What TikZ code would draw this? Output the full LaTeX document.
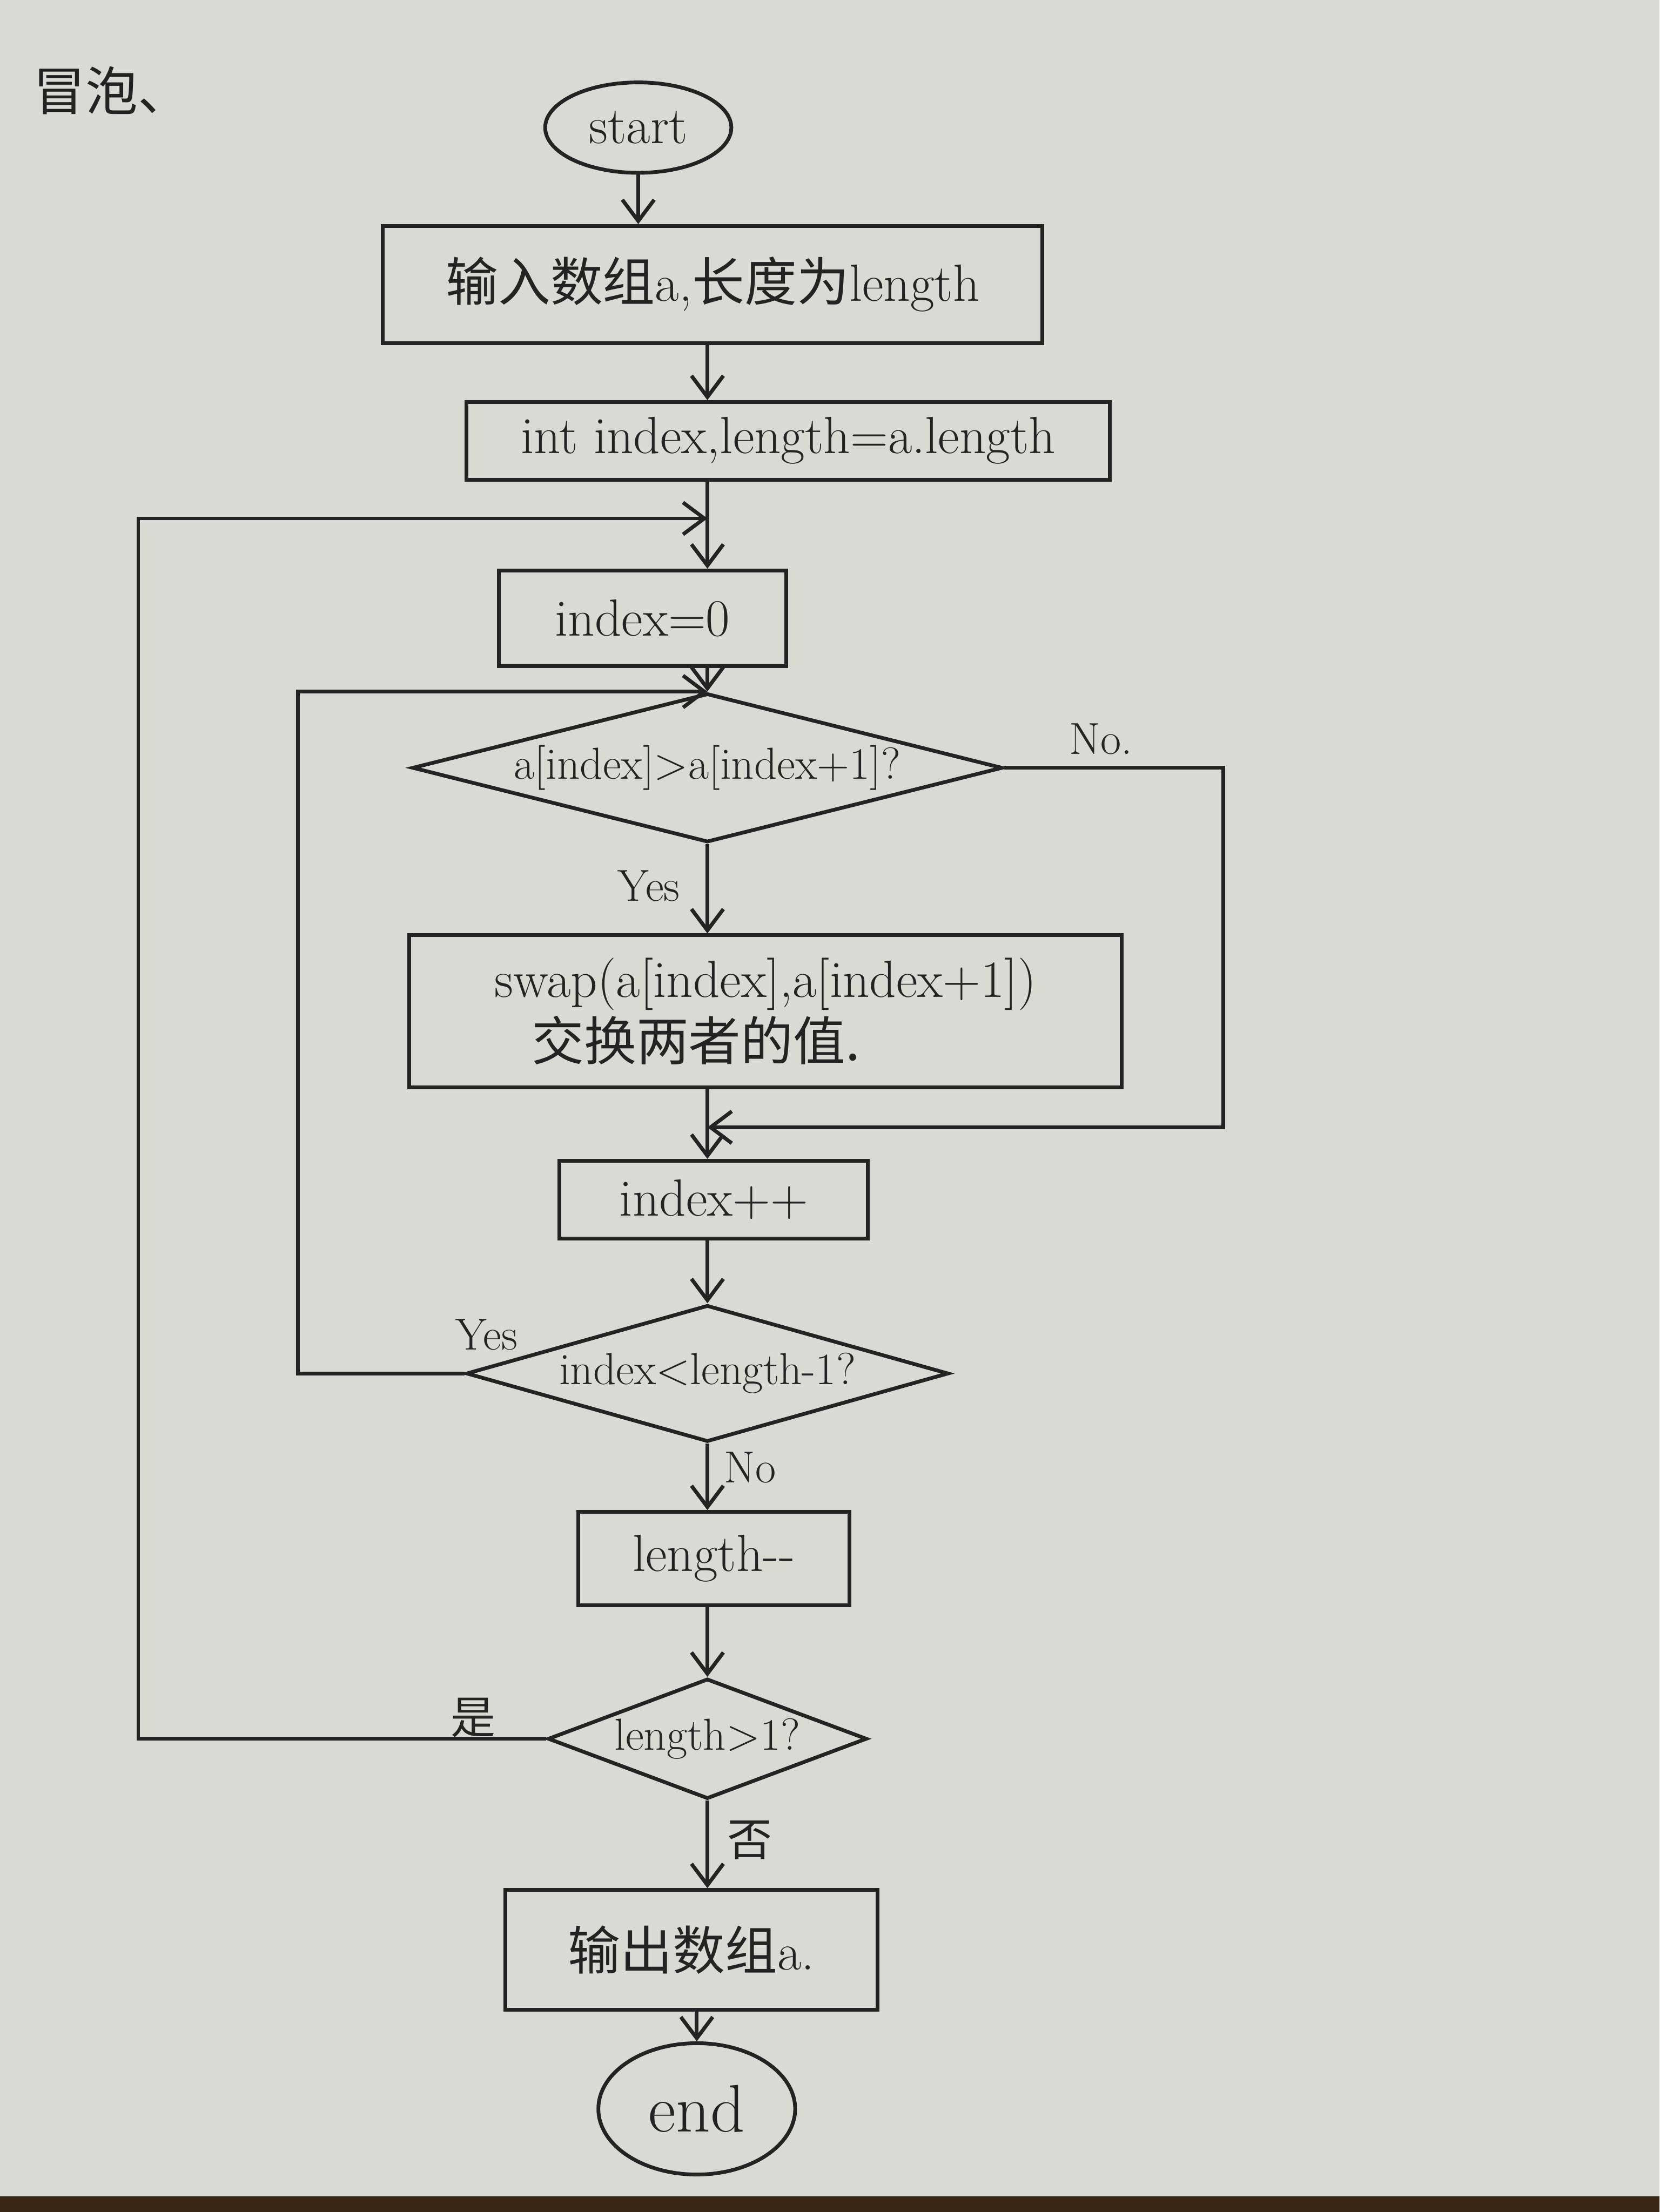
\documentclass[tikz,border=0pt]{standalone}
\usepackage{fontspec}
\usepackage{xcolor}
\usepackage{tikz}
\usetikzlibrary{shapes.geometric,arrows.meta,positioning,calc}
\newfontfamily\cjk{Noto Sans CJK SC}
\definecolor{paper}{RGB}{218,218,212}
\definecolor{ink}{RGB}{35,35,35}

\begin{document}
\begin{tikzpicture}[>={Straight Barb[length=4mm,width=6mm]}, color=ink, line width=2pt,
  box/.style={draw, rectangle, inner sep=0pt, font=\fontsize{28}{34}\selectfont},
  decide/.style={draw, diamond, inner sep=0pt, font=\fontsize{24}{28}\selectfont},
  term/.style={draw, ellipse, inner sep=0pt, font=\fontsize{28}{32}\selectfont},
  lbl/.style={font=\fontsize{24}{28}\selectfont}]
% paper
\fill[paper] (0,0) rectangle (31.2,-41.6);
\fill[black!70!brown] (0,-41.3) rectangle (31.2,-41.6);
\useasboundingbox (0,0) rectangle (31.2,-41.6);

\node (ttl) at (2.1,-1.7) {\fontsize{28}{32}\selectfont\cjk 冒泡、};

\node[term, minimum width=3.5cm, minimum height=1.7cm] (st) at (12.0,-2.4) {start};
\node[box, minimum width=12.4cm, minimum height=2.2cm] (in) at (13.4,-5.35) {{\cjk 输入数组}a,{\cjk 长度为}length};
\node[box, minimum width=12.1cm, minimum height=1.46cm] (ini) at (14.82,-8.29) {int index,length=a.length};
\node[box, minimum width=5.4cm, minimum height=1.8cm] (zero) at (12.08,-11.63) {index=0};
\node[decide, aspect=4, minimum width=11.1cm, minimum height=2.8cm] (cmp) at (13.3,-14.44) {a[index]>a[index+1]?};
\node[box, align=left, minimum width=13.4cm, minimum height=2.86cm] (sw) at (14.39,-19.02)
  {swap(a[index],a[index+1])\\\hspace*{0.7cm}{\cjk 交换两者的值.}};
\node[box, minimum width=5.8cm, minimum height=1.46cm] (inc) at (13.42,-22.56) {index++};
\node[decide, aspect=3.7, minimum width=9.07cm, minimum height=2.57cm] (chk) at (13.3,-25.83) {index<length-1?};
\node[box, minimum width=5.1cm, minimum height=1.75cm] (lenm) at (13.42,-29.31) {length{-}{-}};
\node[decide, aspect=2.65, minimum width=6.0cm, minimum height=2.26cm] (more) at (13.3,-32.70) {length>1?};
\node[box, minimum width=7.0cm, minimum height=2.25cm] (out) at (13.0,-36.67) {{\cjk 输出数组}a.};
\node[term, minimum width=3.7cm, minimum height=2.47cm, font=\fontsize{36}{40}\selectfont] (en) at (13.1,-39.66) {end};

% branch labels
\node[lbl] (no1) at (20.7,-13.9) {No.};
\node[lbl] (y1) at (12.2,-16.66) {Yes};
\node[lbl] (y2) at (9.15,-25.1) {Yes};
\node[lbl] (n2) at (14.1,-27.6) {No};
\node[lbl] (shi) at (8.9,-32.3) {\cjk 是};
\node[lbl] (fou) at (14.1,-34.6) {\cjk 否};

\coordinate (jn) at (13.3,-21.2);
\coordinate (jo) at (13.3,-9.75);
\coordinate (rt) at (23.0,0);
\coordinate (lf) at (5.6,0);
\coordinate (lo) at (2.6,0);

\draw[->] (st) -- (st |- in.north);
\draw[->] (in.south -| cmp) -- (ini.north -| cmp);
\draw[->] (ini.south -| cmp) -- (zero.north -| cmp);
\draw[->] (zero.south -| cmp) -- (cmp);
\draw[->] (cmp) -- (cmp |- sw.north);
\draw[->] (cmp.east) -- (cmp.east -| rt) |- (jn);
\draw[->] (sw.south -| chk) -- (inc.north -| chk);
\draw[->] (inc.south -| chk) -- (chk);
\draw[->] (chk) -- (chk |- lenm.north);
\draw[->] (chk.west) -- (chk.west -| lf) |- (cmp.north);
\draw[->] (lenm.south -| more) -- (more);
\draw[->] (more.west) -- (more.west -| lo) |- (jo);
\draw[->] (more) -- (more |- out.north);
\draw[->] (out.south -| en) -- (en);
\end{tikzpicture}
\end{document}
